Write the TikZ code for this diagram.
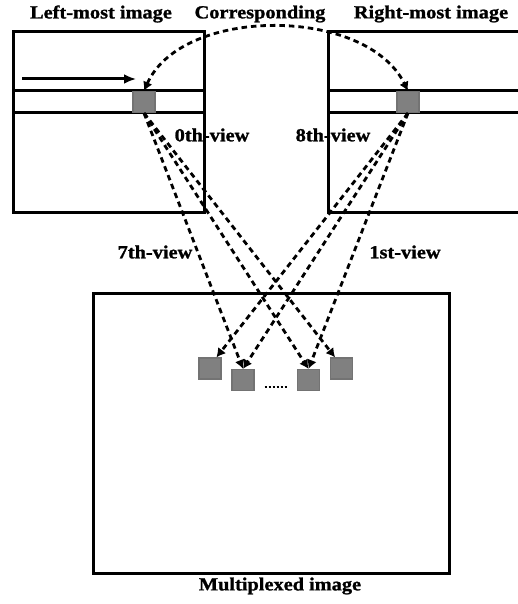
\documentclass[tikz,border=0pt]{standalone}
\usepackage{fontspec}
\newfontfamily\lblfont{Liberation Serif}[FakeStretch=1.1,FakeBold=1.2]
\usetikzlibrary{arrows.meta,calc}
\begin{document}
\begin{tikzpicture}[x=1pt,y=-1pt,
  frame/.style={line width=3pt},
  band/.style={line width=3pt},
  pix/.style={draw=black!55,fill=black!50,line width=1.2pt,minimum width=22pt,minimum height=21pt,inner sep=0pt},
  ray/.style={line width=2.8pt,dash pattern=on 5.5pt off 4pt,-{Latex[length=9pt,width=10pt]}},
  lbl/.style={font=\lblfont\bfseries\fontsize{18.5}{20}\selectfont,inner sep=0pt}
]
\useasboundingbox (0,0) rectangle (517,604);
% left image
\draw[frame] (13,32) rectangle (204,212);
\draw[band] (13,91) -- (204,91);
\draw[band] (13,112.5) -- (204,112.5);
\coordinate (ars) at (22,79);
\coordinate (are) at (136,79);
\draw[line width=3pt,-{Latex[length=12pt,width=10pt]}] (ars) -- (are);
% right image
\draw[frame] (520,32) -- (328,32) -- (328,212) -- (520,212);
\draw[band] (328,91) -- (520,91);
\draw[band] (328,112.5) -- (520,112.5);
% multiplexed image
\draw[frame] (93,293) rectangle (449,573);
% pixels
\node[pix] (ls) at (144,102) {};
\node[pix] (rs) at (408,102) {};
\node[pix] (q1) at (210,368.5) {};
\node[pix] (q2) at (243,380) {};
\node[pix] (q3) at (308.5,380) {};
\node[pix] (q4) at (341.5,368.5) {};
% labels
\node[lbl] (tl) at (101,14) {Left-most image};
\node[lbl] (tc) at (260,14) {Corresponding};
\node[lbl] (tr) at (431,14) {Right-most image};
\node[lbl] (v0) at (212,135) {0th-view};
\node[lbl] (v8) at (333,135) {8th-view};
\node[lbl] (v7) at (155,252) {7th-view};
\node[lbl] (v1) at (405,252) {1st-view};
\node[lbl] (tm) at (280,586) {Multiplexed image};
% correspondence arc
\draw[line width=2.8pt,dash pattern=on 5.5pt off 4pt,{Latex[length=9pt,width=10pt]}-{Latex[length=9pt,width=10pt]}]
  (ls.north) .. controls (182,6) and (366,6) .. (rs.north);
% rays
\draw[ray] (ls.south) -- (q2.north);
\draw[ray] (ls.south) -- (q3.north);
\draw[ray] (ls.south) -- (q4.120);
\draw[ray] (rs.south) -- (q1.60);
\draw[ray] (rs.south) -- (q2.north);
\draw[ray] (rs.south) -- (q3.north);
% dots
\coordinate (d1) at ($(q2.east)+(10,7)$);
\coordinate (d2) at ($(q3.west)+(-9,7)$);
\draw[line width=2.4pt,dash pattern=on 2pt off 2pt] (d1) -- (d2);
\end{tikzpicture}
\end{document}
